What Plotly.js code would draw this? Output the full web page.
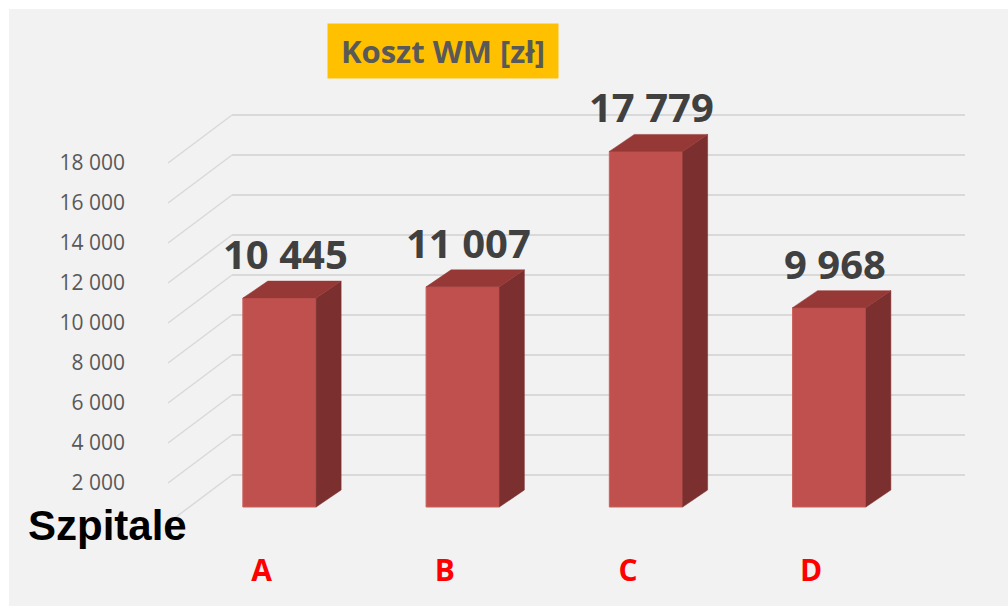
<!DOCTYPE html>
<html>
<head>
<meta charset="utf-8">
<script src="https://cdn.plot.ly/plotly-3.0.1.min.js"></script>
<style>
  html, body { margin: 0; padding: 0; background: #ffffff; width: 1008px; height: 606px; overflow: hidden; }
  #chart { position: absolute; left: 9px; top: 9px; width: 999px; height: 597px; }
</style>
</head>
<body>
<div id="chart"></div>
<script>
// ---- data ----
var categories = ['A', 'B', 'C', 'D'];
var values = [10445, 11007, 17779, 9968];
var tickValues = [2000, 4000, 6000, 8000, 10000, 12000, 14000, 16000, 18000];
var tickLabels = ['2 000', '4 000', '6 000', '8 000', '10 000', '12 000', '14 000', '16 000', '18 000'];
var gridValues = [0, 2000, 4000, 6000, 8000, 10000, 12000, 14000, 16000, 18000];
var chartTitle = 'Koszt WM [zł]';
var axisName = 'Szpitale';

// ---- geometry / style ----
var W = 999, H = 597;
var domStart = 0.2333;          // start of the back wall in paper units
var barW = 0.4;                 // bar front width (category units)
var depthX = 0.1364;            // 3D depth offset along x (category units)
var depthY = 850;               // 3D depth offset along y (value units)
var frontColor = '#c0504d', sideColor = '#7b2f2e', topColor = '#953836';

function fmt(v) { return String(v).replace(/\B(?=(\d{3})+(?!\d))/g, ' '); }

var xs = categories.map(function (c, i) { return i; });

var traces = [];
// front faces
traces.push({
  type: 'bar', x: xs, y: values, width: barW,
  marker: { color: frontColor, line: { color: '#c9605d', width: 1 } },
  hoverinfo: 'skip', showlegend: false
});
// side faces and top faces built from the values
values.forEach(function (v, i) {
  var r = i + barW / 2, l = i - barW / 2;
  traces.push({
    type: 'scatter', mode: 'lines', fill: 'toself',
    x: [r, r, r + depthX, r + depthX, r],
    y: [0, v, v + depthY, depthY, 0],
    line: { color: sideColor, width: 0.5 }, fillcolor: sideColor,
    hoverinfo: 'skip', showlegend: false
  });
  traces.push({
    type: 'scatter', mode: 'lines', fill: 'toself',
    x: [l, r, r + depthX, l + depthX, l],
    y: [v, v, v + depthY, v + depthY, v],
    line: { color: topColor, width: 0.5 }, fillcolor: topColor,
    hoverinfo: 'skip', showlegend: false
  });
});
// invisible traces so the helper axes are drawn
traces.push({ type: 'scatter', x: [0], y: [0], yaxis: 'y2', mode: 'markers', marker: { opacity: 0 }, hoverinfo: 'skip', showlegend: false });
traces.push({ type: 'scatter', x: [0], y: [0], yaxis: 'y3', mode: 'markers', marker: { opacity: 0 }, hoverinfo: 'skip', showlegend: false });

// diagonal wall lines (from back wall to front edge)
var shapes = gridValues.map(function (g) {
  return {
    type: 'line', xref: 'paper', yref: 'y2', layer: 'below',
    x0: domStart, y0: g, x1: domStart - 64 / (W - 43), y1: g - 2400,
    line: { color: '#d9d9d9', width: 1.5 }
  };
});

var annotations = values.map(function (v, i) {
  return {
    x: i, y: v + depthY, xref: 'x', yref: 'y', xanchor: 'center', yanchor: 'bottom',
    xshift: 6, yshift: -2,
    text: fmt(v), showarrow: false,
    font: { family: 'Open Sans', size: 40, color: '#404040', weight: 700 }
  };
});
annotations.push({
  xref: 'paper', yref: 'paper', x: (443 - 9) / (W - 43), y: 1 + (91 - (51 - 9)) / 440,
  xanchor: 'center', yanchor: 'middle', text: chartTitle, showarrow: false,
  bgcolor: '#ffc000', width: 220, height: 44, borderpad: 5,
  font: { family: 'Open Sans', size: 31, color: '#595959', weight: 700 }
});
annotations.push({
  xref: 'paper', yref: 'paper', x: (107 - 9) / (W - 43), y: -((525 - 9) - 531) / 440,
  xanchor: 'center', yanchor: 'middle', text: axisName, showarrow: false,
  font: { family: 'Liberation Sans, Arial, sans-serif', size: 42, color: '#000000', weight: 700 }
});

var layout = {
  width: W, height: H,
  margin: { l: 0, r: 43, t: 91, b: 66 },
  paper_bgcolor: '#f2f2f2', plot_bgcolor: 'rgba(0,0,0,0)',
  showlegend: false,
  bargap: 0,
  xaxis: {
    domain: [domStart, 1], range: [-0.259, 3.741], type: 'linear',
    tickvals: xs, ticktext: categories, ticks: '', showgrid: false, zeroline: false, showline: false,
    ticklabelshift: -18, ticklabelstandoff: 10,
    tickfont: { family: 'Open Sans', size: 30, color: '#ff0000', weight: 700 },
    fixedrange: true
  },
  yaxis: {
    range: [-1650, 20350], showgrid: false, zeroline: false, showline: false, showticklabels: false, ticks: '',
    fixedrange: true
  },
  yaxis2: {
    overlaying: 'y', range: [-3250, 18750], tickvals: gridValues, showgrid: true,
    gridcolor: '#d9d9d9', gridwidth: 1.5, zeroline: false, showline: false, showticklabels: false, ticks: '',
    fixedrange: true
  },
  yaxis3: {
    overlaying: 'y', anchor: 'free', position: 116 / (W - 43), side: 'left',
    range: [-850, 21150], tickvals: tickValues, ticktext: tickLabels,
    showgrid: false, zeroline: false, showline: false, ticks: '',
    tickfont: { family: 'Open Sans', size: 21, color: '#595959' },
    fixedrange: true
  },
  shapes: shapes,
  annotations: annotations
};

Plotly.newPlot('chart', traces, layout, { displayModeBar: false, staticPlot: true });
</script>
</body>
</html>
